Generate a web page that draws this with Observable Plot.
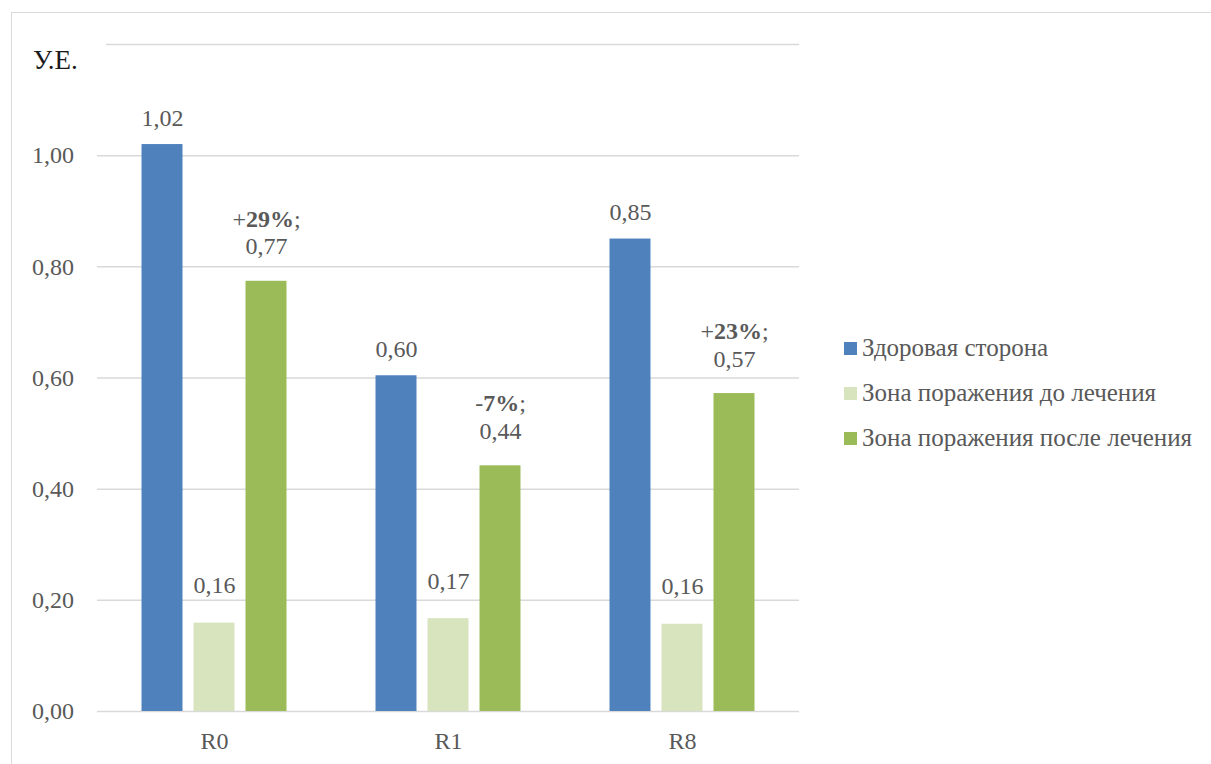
<!DOCTYPE html>
<html><head><meta charset="utf-8">
<script src="https://cdn.jsdelivr.net/npm/d3@7"></script>
<script src="https://cdn.jsdelivr.net/npm/@observablehq/plot@0.6"></script>
<style>
body{margin:0;width:1211px;height:764px;overflow:hidden;background:#fff;font-family:"Liberation Serif","Tinos","Times New Roman","DejaVu Serif Condensed","DejaVu Serif",serif;}
#wrap{position:relative;width:1211px;height:764px;}
#chart{position:absolute;left:0;top:0;}
#frame{position:absolute;left:11px;top:12px;width:1400px;height:1000px;border:1.5px solid #d9d9d9;z-index:3;pointer-events:none;}
#ylabel{position:absolute;left:33px;top:40px;width:73px;height:40px;background:#fff;z-index:2;font-size:27px;color:#1a1a1a;line-height:40px;}
#legend{position:absolute;left:844px;top:0;z-index:2;}
.row{position:absolute;left:0;height:30px;display:flex;align-items:center;white-space:nowrap;font-size:25px;color:#595959;}
.sw{width:13px;height:13px;margin-right:5px;flex:none;}
</style></head>
<body><div id="wrap"><div id="frame"></div><div id="ylabel">У.Е.</div><div id="legend"></div><div id="chart"></div></div>
<script>
const categories = ["R0", "R1", "R8"];
const seriesNames = ["Здоровая сторона", "Зона поражения до лечения", "Зона поражения после лечения"];
const seriesColors = ["#4f81bd", "#d7e4bd", "#9bbb59"];
const healthy = [1.02, 0.604, 0.85];
const beforeTreatment = [0.159, 0.167, 0.157];
const afterTreatment = [0.774, 0.442, 0.572];
const changeLabels = ["+29%", "-7%", "+23%"];
const yTickValues = [0, 0.2, 0.4, 0.6, 0.8, 1.0];
const yGridValues = [0, 0.2, 0.4, 0.6, 0.8, 1.0, 1.2];

const fmt = v => d3.format(".2f")(v).replace(".", ",");
const seriesValues = [healthy, beforeTreatment, afterTreatment];
const rows = [];
categories.forEach((c, i) => {
  seriesNames.forEach((s, j) => {
    const v = seriesValues[j][i];
    rows.push({cat: c, series: s, value: v,
      label: j === 2 ? changeLabels[i] + ";\n" + fmt(v) : fmt(v)});
  });
});

const font = "'Liberation Serif','Tinos','Times New Roman','DejaVu Serif Condensed','DejaVu Serif',serif";
const labelOpts = (j, dy) => Plot.text(rows.filter(d => d.series === seriesNames[j]), {
  fx: "cat", x: "series", y: "value", text: "label", lineAnchor: "bottom", dy,
  fill: "#595959", fontSize: 24, lineHeight: 1.15
});

const chart = Plot.plot({
  width: 1211, height: 764,
  marginLeft: 95.5, marginRight: 411.5, marginTop: 44, marginBottom: 53,
  style: {fontFamily: font, fontSize: "24px", color: "#595959", background: "none"},
  fx: {domain: categories, padding: 0, label: null, axis: "bottom", tickSize: 0, tickPadding: 20},
  x: {domain: seriesNames, axis: null, paddingInner: 0.216, paddingOuter: 0.853},
  y: {domain: [0, 1.2], ticks: yTickValues, tickFormat: fmt, tickSize: 0, tickPadding: 23.5, label: null},
  color: {domain: seriesNames, range: seriesColors},
  marks: [
    Plot.ruleY(yGridValues, {stroke: "#d9d9d9", strokeWidth: 1.5}),
    Plot.barY(rows, {fx: "cat", x: "series", y: "value", fill: "series"}),
    labelOpts(0, -19),
    labelOpts(1, -30),
    labelOpts(2, -27)
  ]
});
document.getElementById("chart").appendChild(chart);

// bold the percentage number in the change labels (sign and semicolon stay regular)
const pctRe = /^([+\-]?)(\d+%)(;)$/;
d3.select(chart).selectAll("text, tspan").each(function() {
  if (this.children.length) return;
  const t = this.textContent;
  const m = t.match(pctRe);
  if (!m) return;
  const el = d3.select(this);
  el.text("");
  el.append("tspan").text(m[1]);
  el.append("tspan").attr("font-weight", "bold").text(m[2]);
  el.append("tspan").text(m[3]);
});

const legend = d3.select("#legend");
seriesNames.forEach((s, i) => {
  const r = legend.append("div").attr("class", "row").style("top", (333 + i * 45) + "px");
  r.append("div").attr("class", "sw").style("background", seriesColors[i]);
  r.append("span").text(s);
});
</script></body></html>
